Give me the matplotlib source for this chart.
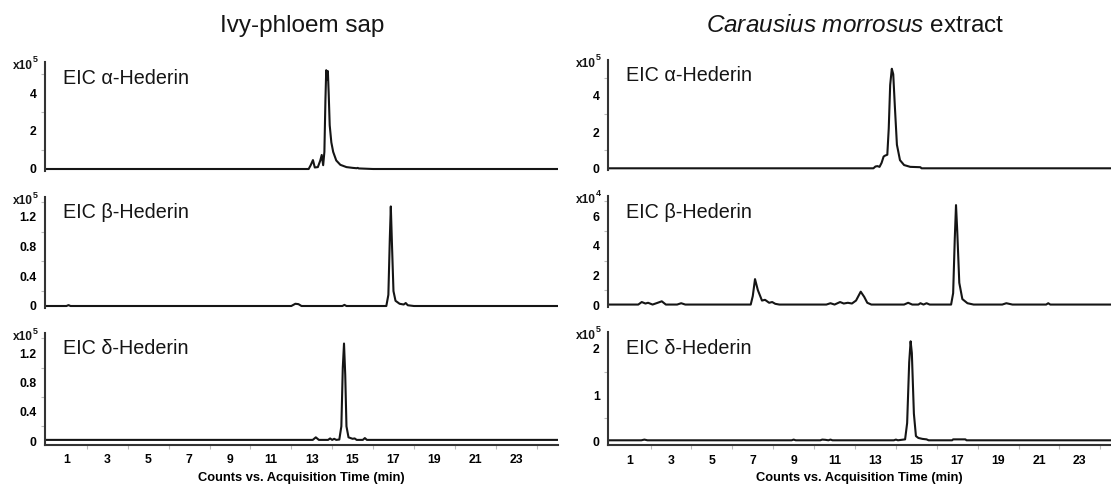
import matplotlib.pyplot as plt
import numpy as np

plt.rcParams['font.family'] = ['Liberation Sans', 'DejaVu Sans']
plt.rcParams['mathtext.fontset'] = 'custom'
plt.rcParams['mathtext.rm'] = 'Liberation Sans'
plt.rcParams['mathtext.it'] = 'Liberation Sans:italic'

# chromatogram traces: (time in min, counts in units of the panel's x10^n)
ivy_alpha = [(0, 0), (12.85, 0), (12.95, 0.2), (13.06, 0.47), (13.15, 0.08), (13.3, 0.1),
             (13.42, 0.45), (13.49, 0.74), (13.56, 0.2), (13.62, 0.9), (13.67, 3.6),
             (13.71, 5.2), (13.75, 4.7), (13.79, 5.15), (13.83, 4.0), (13.88, 2.3),
             (13.96, 1.4), (14.05, 0.9), (14.2, 0.45), (14.4, 0.22), (14.7, 0.1),
             (15.0, 0.06), (15.2, 0.04), (15.25, 0.06), (15.3, 0.03), (16.0, 0), (25.0, 0)]
ivy_beta = [(0, 0), (1.0, 0), (1.1, 0.012), (1.2, 0), (12.0, 0), (12.2, 0.03), (12.35, 0.025),
            (12.5, 0), (14.5, 0), (14.6, 0.015), (14.7, 0), (16.65, 0), (16.75, 0.15),
            (16.82, 0.9), (16.87, 1.34), (16.93, 0.8), (17.0, 0.2), (17.1, 0.07), (17.3, 0.03),
            (17.5, 0.02), (17.6, 0.04), (17.7, 0.01), (18.0, 0), (25.0, 0)]
ivy_delta = [(0, 0.015), (13.05, 0.015), (13.2, 0.05), (13.35, 0.015), (13.8, 0.015),
             (13.9, 0.035), (14.0, 0.015), (14.1, 0.03), (14.2, 0.015), (14.35, 0.02),
             (14.45, 0.2), (14.52, 1.0), (14.58, 1.33), (14.64, 0.9), (14.7, 0.2), (14.8, 0.05),
             (15.0, 0.03), (15.1, 0.035), (15.2, 0.015), (15.5, 0.015), (15.6, 0.04),
             (15.7, 0.015), (25.0, 0.015)]
cm_alpha = [(0, 0), (12.9, 0), (13.0, 0.1), (13.1, 0.12), (13.2, 0.08), (13.3, 0.3), (13.4, 0.65),
            (13.47, 0.7), (13.58, 0.75), (13.65, 2.2), (13.72, 4.6), (13.8, 5.5), (13.87, 5.2),
            (13.95, 3.4), (14.05, 1.3), (14.2, 0.45), (14.4, 0.18), (14.7, 0.08), (15.2, 0.06),
            (15.25, 0), (24.6, 0)]
cm_beta = [(0, 0.03), (1.4, 0.03), (1.57, 0.2), (1.75, 0.1), (1.88, 0.15), (2.1, 0.03),
           (2.35, 0.15), (2.55, 0.25), (2.75, 0.03), (3.3, 0.03), (3.5, 0.12), (3.7, 0.03),
           (6.9, 0.03), (7.0, 0.6), (7.11, 1.75), (7.25, 1.0), (7.45, 0.3), (7.6, 0.35),
           (7.8, 0.15), (7.95, 0.2), (8.1, 0.08), (8.3, 0.03), (10.6, 0.03), (10.8, 0.12),
           (11.0, 0.03), (11.27, 0.2), (11.45, 0.1), (11.65, 0.15), (11.85, 0.1), (12.05, 0.3),
           (12.28, 0.9), (12.45, 0.55), (12.6, 0.15), (12.8, 0.03), (14.4, 0.03), (14.6, 0.15),
           (14.8, 0.03), (15.1, 0.03), (15.2, 0.12), (15.35, 0.03), (15.5, 0.12), (15.65, 0.03),
           (16.7, 0.03), (16.8, 0.8), (16.88, 4.5), (16.94, 6.75), (17.0, 5.0), (17.1, 1.5),
           (17.25, 0.4), (17.5, 0.12), (17.8, 0.03), (19.2, 0.03), (19.4, 0.12), (19.7, 0.03),
           (21.35, 0.03), (21.45, 0.12), (21.55, 0.03), (24.6, 0.03)]
cm_delta = [(0, 0.03), (1.55, 0.03), (1.7, 0.045), (1.85, 0.03), (8.9, 0.03), (9.0, 0.045),
            (9.1, 0.03), (10.3, 0.03), (10.4, 0.045), (10.55, 0.04), (10.7, 0.03), (10.8, 0.045),
            (10.9, 0.03), (13.9, 0.03), (14.0, 0.045), (14.1, 0.03), (14.45, 0.05), (14.55, 0.4),
            (14.65, 1.7), (14.72, 2.15), (14.78, 1.9), (14.88, 0.6), (14.98, 0.12), (15.1, 0.08),
            (15.3, 0.06), (15.5, 0.05), (15.6, 0.03), (16.75, 0.03), (16.8, 0.05), (17.4, 0.05),
            (17.45, 0.03), (24.6, 0.03)]

titles = ["Ivy-phloem sap", r"$\it{Carausius\ morrosus}$ extract"]
labels = ["EIC α-Hederin", "EIC β-Hederin", "EIC δ-Hederin"]
traces = [[ivy_alpha, ivy_beta, ivy_delta], [cm_alpha, cm_beta, cm_delta]]
exponents = [[5, 5, 5], [5, 4, 5]]
yticks = [[[0, 2, 4], [0, 0.4, 0.8, 1.2], [0, 0.4, 0.8, 1.2]],
          [[0, 2, 4], [0, 2, 4, 6], [0, 1, 2]]]
xticks = [1, 3, 5, 7, 9, 11, 13, 15, 17, 19, 21, 23]

# layout in pixels of the 1111x487 picture
W, H = 1111, 487
cols = [(45, 558, -0.05, 25.05), (608, 1111, -0.08, 24.52)]
title_x = [302, 855]
# (top px, zero px, px per unit) per row
rows = [[(62, 169, 19.0), (197, 306, 74.3), (333, 441, 73.3)],
        [(60, 168.3, 18.1), (196, 305, 14.8), (332, 441.7, 46.7)]]

fig = plt.figure(figsize=(W / 100, H / 100), dpi=100)
ink = '#151515'

for c in range(2):
    left, right, x0, x1 = cols[c]
    for r in range(3):
        top, zero, s = rows[c][r]
        margin = 3.5 if r == 2 else 2.0
        bottom = zero + margin
        ax = fig.add_axes([left / W, 1 - bottom / H, (right - left) / W, (bottom - top) / H])
        pts = np.array(traces[c][r])
        ax.plot(pts[:, 0], pts[:, 1], color=ink, lw=1.5, solid_joinstyle='round')
        ax.set_xlim(x0, x1)
        ax.set_ylim(-margin / s, (zero - top) / s)
        for side in ['top', 'right']:
            ax.spines[side].set_visible(False)
        ax.spines['left'].set_linewidth(1.5)
        ax.spines['left'].set_color('#333333')
        ax.spines['bottom'].set_visible(r == 2)
        ax.spines['bottom'].set_linewidth(1.5)
        ax.spines['bottom'].set_color('#333333')

        yt = yticks[c][r]
        ax.set_yticks(yt)
        ax.set_yticklabels([('%g' % v) for v in yt], fontsize=8.8, fontweight='bold')
        step = yt[1] - yt[0]
        ax.set_yticks(np.arange(step / 2, (zero - top) / s, step), minor=True)
        ax.tick_params(axis='y', which='major', length=0, pad=6)
        ax.tick_params(axis='y', which='minor', length=3, color='#bbbbbb', width=0.8)

        ax.set_xticks(xticks)
        ax.set_xticks(range(2, 25, 2), minor=True)
        ax.tick_params(axis='x', which='major', length=0, pad=7)
        ax.tick_params(axis='x', which='minor', length=3, color='#bbbbbb', width=0.8)
        if r == 2:
            ax.set_xticklabels([str(v) for v in xticks], fontsize=8.8, fontweight='bold')
            ax.set_xlabel("Counts vs. Acquisition Time (min)", fontsize=9.3,
                          fontweight='bold', labelpad=4)
        else:
            ax.set_xticklabels([])
            ax.tick_params(axis='x', which='minor', length=0)

        ax.annotate("x10", xy=(0, 1), xycoords='axes fraction', xytext=(-12, -4),
                    textcoords='offset pixels', ha='right', va='center',
                    fontsize=8.6, fontweight='bold', color=ink)
        ax.annotate(str(exponents[c][r]), xy=(0, 1), xycoords='axes fraction',
                    xytext=(-12.5, 2), textcoords='offset pixels', ha='left',
                    va='center', fontsize=6.5, fontweight='bold', color=ink)
        ax.annotate(labels[r], xy=(0, 1), xycoords='axes fraction', xytext=(18, -16),
                    textcoords='offset pixels', ha='left', va='center',
                    fontsize=14.2, color=ink)

    fig.text(title_x[c] / W, 1 - 32 / H, titles[c], ha='center', va='baseline',
             fontsize=17.5, color=ink)

fig.savefig("out.png", dpi=100)
